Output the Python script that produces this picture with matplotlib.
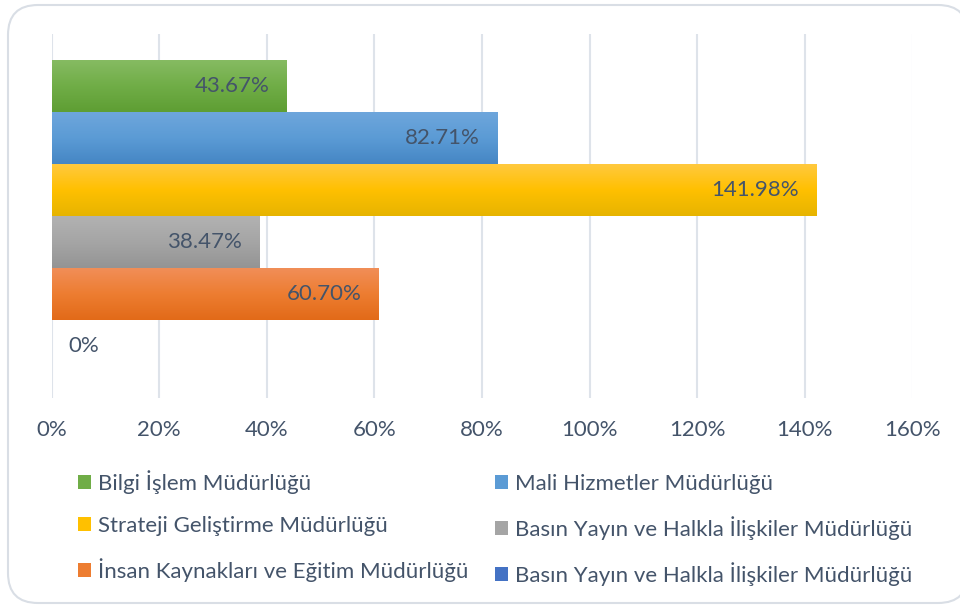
import numpy as np
import matplotlib.pyplot as plt
from matplotlib.patches import FancyBboxPatch, Patch
from matplotlib.colors import LinearSegmentedColormap

plt.rcParams['font.family'] = ['Lato', 'DejaVu Sans']

# --------- Data ---------
units = [
    'Bilgi İşlem Müdürlüğü',
    'Mali Hizmetler Müdürlüğü',
    'Strateji Geliştirme Müdürlüğü',
    'Basın Yayın ve Halkla İlişkiler Müdürlüğü',
    'İnsan Kaynakları ve Eğitim Müdürlüğü',
    'Basın Yayın ve Halkla İlişkiler Müdürlüğü',
]
rates = [43.67, 82.71, 141.98, 38.47, 60.70, 0]
xticks = [0, 20, 40, 60, 80, 100, 120, 140, 160]

# top / middle / bottom shades for the gradient fill
colors = ['#70AD47', '#5B9BD5', '#FFC000', '#A5A5A5', '#ED7D31', '#4472C4']
tops = ['#86BB62', '#6EA6DC', '#FFC93F', '#B2B2B2', '#F18E58', '#5A84CC']
bottoms = ['#5E9E33', '#4586C4', '#E6B400', '#949494', '#E26A18', '#3A64B4']

text_color = '#44546A'
fs = 16

fig = plt.figure(figsize=(9.6, 6.06), dpi=100)
W, H = 960, 606
ax = fig.add_axes([51.5 / W, 1 - 398 / H, 861 / W, 364 / H])

# chart frame (runs off the right edge like the original screenshot)
frame = FancyBboxPatch((0.08, 0.03), 9.6, 5.98,
                       boxstyle='round,pad=0,rounding_size=0.3',
                       transform=fig.dpi_scale_trans, facecolor='white',
                       edgecolor='#D9DEE5', linewidth=1.5, zorder=-10)
fig.patches.append(frame)

y = np.arange(len(rates))
bars = ax.barh(y, rates, height=1.0, color=colors, linewidth=0, zorder=2)

for bar, top, mid, bot in zip(bars, tops, colors, bottoms):
    w = bar.get_width()
    if w <= 0:
        continue
    cmap = LinearSegmentedColormap.from_list('g', [top, mid, bot])
    grad = np.linspace(0, 1, 256).reshape(-1, 1)
    yb, h = bar.get_y(), bar.get_height()
    im = ax.imshow(grad, cmap=cmap, aspect='auto', origin='upper',
                   extent=(0, w, yb + h, yb), zorder=3)
    im.set_clip_path(bar)

for i, v in enumerate(rates):
    if v > 0:
        ax.annotate(f'{v:.2f}%', (v, i), xytext=(-12, 0), textcoords='offset points',
                    ha='right', va='center', fontsize=fs, color=text_color, zorder=5)
    else:
        ax.annotate('0%', (0, i), xytext=(12, 0), textcoords='offset points',
                    ha='left', va='center', fontsize=fs, color=text_color, zorder=5)

ax.set_xlim(0, 160)
ax.set_ylim(len(rates), -1)
ax.set_xticks(xticks)
ax.set_xticklabels([f'{t}%' for t in xticks])
ax.set_yticks([])
ax.grid(axis='x', color='#DEE3EA', linewidth=1.5, zorder=0)
ax.set_axisbelow(True)
for s in ax.spines.values():
    s.set_visible(False)
ax.tick_params(axis='x', length=0, pad=16, labelsize=fs, labelcolor=text_color)
ax.patch.set_alpha(0)

# legend filled row by row, like Excel
order = [0, 2, 4, 1, 3, 5]
handles = [Patch(facecolor=colors[i], edgecolor='none') for i in order]
labels = [units[i] for i in order]
leg = fig.legend(handles, labels, ncol=2, loc='upper left',
                 bbox_to_anchor=(78 / W, 1 - 470 / H), frameon=False,
                 fontsize=fs, labelcolor=text_color, handlelength=0.6,
                 handleheight=0.6, handletextpad=0.3, columnspacing=1.2,
                 labelspacing=1.0, borderpad=0, borderaxespad=0)

fig.savefig('out.png', dpi=100)
